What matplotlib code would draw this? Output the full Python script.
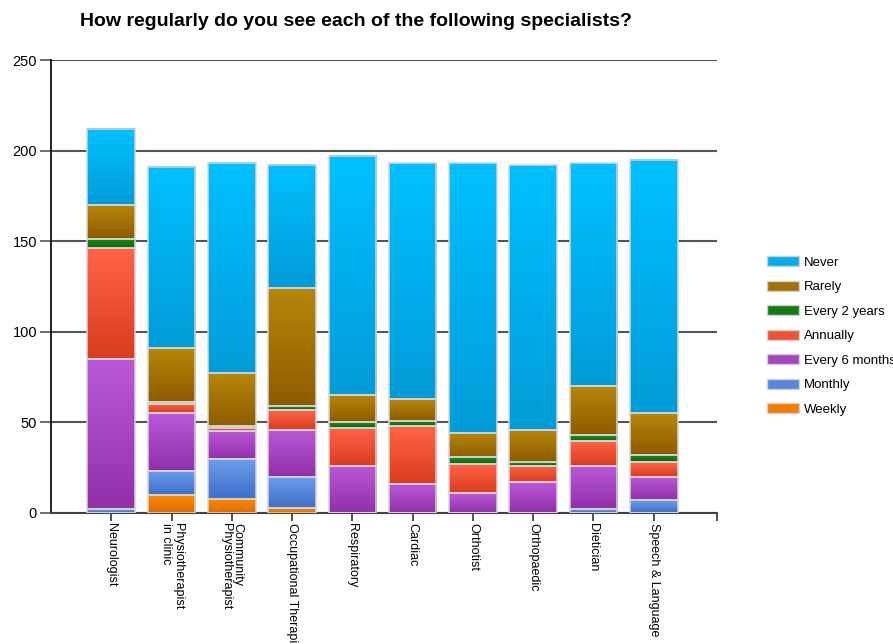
import numpy as np
import matplotlib
matplotlib.use("Agg")
import matplotlib.pyplot as plt
from matplotlib.colors import LinearSegmentedColormap
from matplotlib.patches import Patch

plt.rcParams['font.family'] = ['Liberation Sans', 'DejaVu Sans']

specialists = [
    "Neurologist", "Physiotherapist\nin clinic", "Community\nPhysiotherapist",
    "Occupational Therapist", "Respiratory", "Cardiac", "Orthotist",
    "Orthopaedic", "Dietician", "Speech & Language",
]

# stacked from the bottom up
frequencies = ["Weekly", "Monthly", "Every 6 months", "Annually",
               "Every 2 years", "Rarely", "Never"]

weekly = [0, 10, 8, 3, 0, 0, 0, 0, 0, 0]
monthly = [2, 13, 22, 17, 0, 0, 0, 0, 2, 7]
every_6_months = [83, 32, 15, 26, 26, 16, 11, 17, 24, 13]
annually = [61, 5, 2, 11, 21, 32, 16, 9, 14, 8]
every_2_years = [5, 1, 1, 2, 3, 3, 4, 2, 3, 4]
rarely = [19, 30, 29, 65, 15, 12, 13, 18, 27, 23]
never = [42, 100, 116, 68, 132, 130, 149, 146, 123, 140]

series = [weekly, monthly, every_6_months, annually, every_2_years, rarely, never]

# (top colour, bottom colour) for each band's vertical gradient
shades = {
    "Weekly": ("#ff8c00", "#e06a00"),
    "Monthly": ("#6a9cee", "#3f6fc6"),
    "Every 6 months": ("#bb58d8", "#9230a8"),
    "Annually": ("#ff6448", "#d83d1e"),
    "Every 2 years": ("#1c8c1c", "#0c6a0c"),
    "Rarely": ("#b5870a", "#8e5c00"),
    "Never": ("#00c0ff", "#009cd8"),
}
solid = {
    "Weekly": "#f47d00", "Monthly": "#5585dd", "Every 6 months": "#a844c4",
    "Annually": "#ee5233", "Every 2 years": "#157b15", "Rarely": "#a27208",
    "Never": "#00aeea",
}

fig = plt.figure(figsize=(8.93, 6.44), dpi=100)
ax = fig.add_axes([51 / 893, 131 / 644, 666 / 893, 453 / 644])

x = np.arange(len(specialists))
width = 0.79
bottom = np.zeros(len(specialists))
for name, vals in zip(frequencies, series):
    vals = np.array(vals, dtype=float)
    bars = ax.bar(x, vals, width, bottom=bottom, color=solid[name],
                  edgecolor="none", zorder=2)
    cmap = LinearSegmentedColormap.from_list(name, [shades[name][1], shades[name][0]])
    grad = np.linspace(0, 1, 64).reshape(-1, 1)
    for b in bars:
        if b.get_height() <= 0:
            continue
        x0, y0 = b.get_x(), b.get_y()
        ax.imshow(grad, cmap=cmap, origin="lower", aspect="auto",
                  extent=(x0, x0 + b.get_width(), y0, y0 + b.get_height()),
                  zorder=3, interpolation="bilinear")
    ax.bar(x, vals, width, bottom=bottom, color="none",
           edgecolor="#d6d6d6", linewidth=1.1, zorder=4)
    bottom += vals

ax.set_xlim(-1.0, 10.05)
ax.set_ylim(0, 250)

ax.set_yticks(np.arange(0, 251, 50))
ax.yaxis.grid(True, color="#555555", linewidth=1.5, zorder=1)
ax.set_axisbelow(True)
ax.tick_params(axis="y", length=8, width=1.2, color="#555555",
               labelsize=10.5, pad=2)

ax.set_xticks(x)
ax.set_xticklabels(specialists, rotation=270, fontsize=9,
                   va="top", ha="center", multialignment="left",
                   linespacing=1.0)
ax.set_xticks([10.05], minor=True)
ax.tick_params(axis="x", which="both", length=6, width=1.2, color="#333333", pad=1.5)

for side in ("top", "right"):
    ax.spines[side].set_visible(False)
ax.spines["left"].set_color("#111111")
ax.spines["left"].set_linewidth(1.3)
ax.spines["bottom"].set_color("#444444")
ax.spines["bottom"].set_linewidth(1.5)

handles = [Patch(facecolor=solid[n], edgecolor="#d0d0d0", label=n)
           for n in reversed(frequencies)]
fig.legend(handles=handles, loc="upper left", bbox_to_anchor=(762 / 893, 1 - 251 / 644),
           frameon=False, fontsize=9.5, handlelength=2.4, handleheight=0.8,
           labelspacing=0.9, handletextpad=0.4, borderaxespad=0)

fig.text(80 / 893, 1 - 21 / 644,
         "How regularly do you see each of the following specialists?",
         fontsize=14, fontweight="bold", va="center", ha="left")

fig.savefig("out.png", dpi=100, facecolor="white")
